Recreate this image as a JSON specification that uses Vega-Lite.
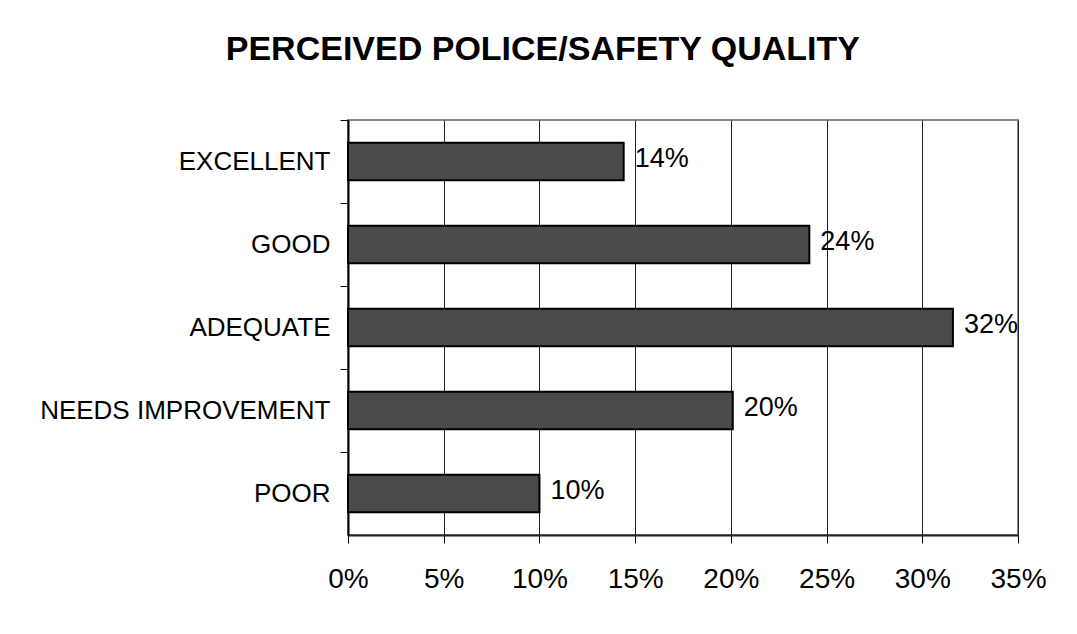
{
  "$schema": "https://vega.github.io/schema/vega-lite/v6.json",
  "autosize": "none",
  "padding": {"left": 348, "top": 120, "right": 59, "bottom": 99},
  "width": 670,
  "height": 415,
  "background": "white",
  "title": {
    "text": "PERCEIVED POLICE/SAFETY QUALITY",
    "font": "Liberation Sans",
    "fontSize": 34,
    "fontWeight": "bold",
    "color": "black",
    "anchor": "middle",
    "frame": "bounds",
    "offset": 53,
    "dx": 0
  },
  "config": {
    "view": {"stroke": "#888888", "strokeWidth": 2},
    "axis": {"labelFont": "Liberation Sans", "labelColor": "black"}
  },
  "data": {
    "values": [
      {"rating": "EXCELLENT", "share": 0.144},
      {"rating": "GOOD", "share": 0.241},
      {"rating": "ADEQUATE", "share": 0.316},
      {"rating": "NEEDS IMPROVEMENT", "share": 0.201},
      {"rating": "POOR", "share": 0.100}
    ]
  },
  "encoding": {
    "y": {
      "field": "rating",
      "type": "nominal",
      "sort": null,
      "title": null,
      "scale": {"paddingInner": 0.55, "paddingOuter": 0.275},
      "axis": {
        "bandPosition": 0,
        "tickOffset": -23,
        "labelOffset": 22.5,
        "tickSize": 8,
        "tickColor": "black",
        "tickWidth": 1,
        "domainColor": "black",
        "domainWidth": 2,
        "labelFontSize": 26,
        "labelPadding": 10,
        "labelLimit": 400,
        "grid": false
      }
    },
    "x": {
      "field": "share",
      "type": "quantitative",
      "title": null,
      "scale": {"domain": [0, 0.35], "nice": false},
      "axis": {
        "values": [0, 0.05, 0.1, 0.15, 0.2, 0.25, 0.3, 0.35],
        "format": ".0%",
        "labelFlush": false,
        "grid": true,
        "gridColor": "#222222",
        "gridWidth": 1,
        "gridOpacity": 1,
        "tickSize": 8,
        "tickColor": "black",
        "tickWidth": 1,
        "domainColor": "#222222",
        "domainWidth": 2,
        "labelFontSize": 28,
        "labelPadding": 22
      }
    }
  },
  "layer": [
    {
      "mark": {"type": "bar", "fill": "#4a4a4a", "stroke": "black", "strokeWidth": 2}
    },
    {
      "mark": {
        "type": "text",
        "align": "left",
        "baseline": "middle",
        "dx": 11,
        "dy": -3,
        "font": "Liberation Sans",
        "fontSize": 27,
        "color": "black"
      },
      "encoding": {
        "text": {"field": "share", "type": "quantitative", "format": ".0%"}
      }
    }
  ]
}
